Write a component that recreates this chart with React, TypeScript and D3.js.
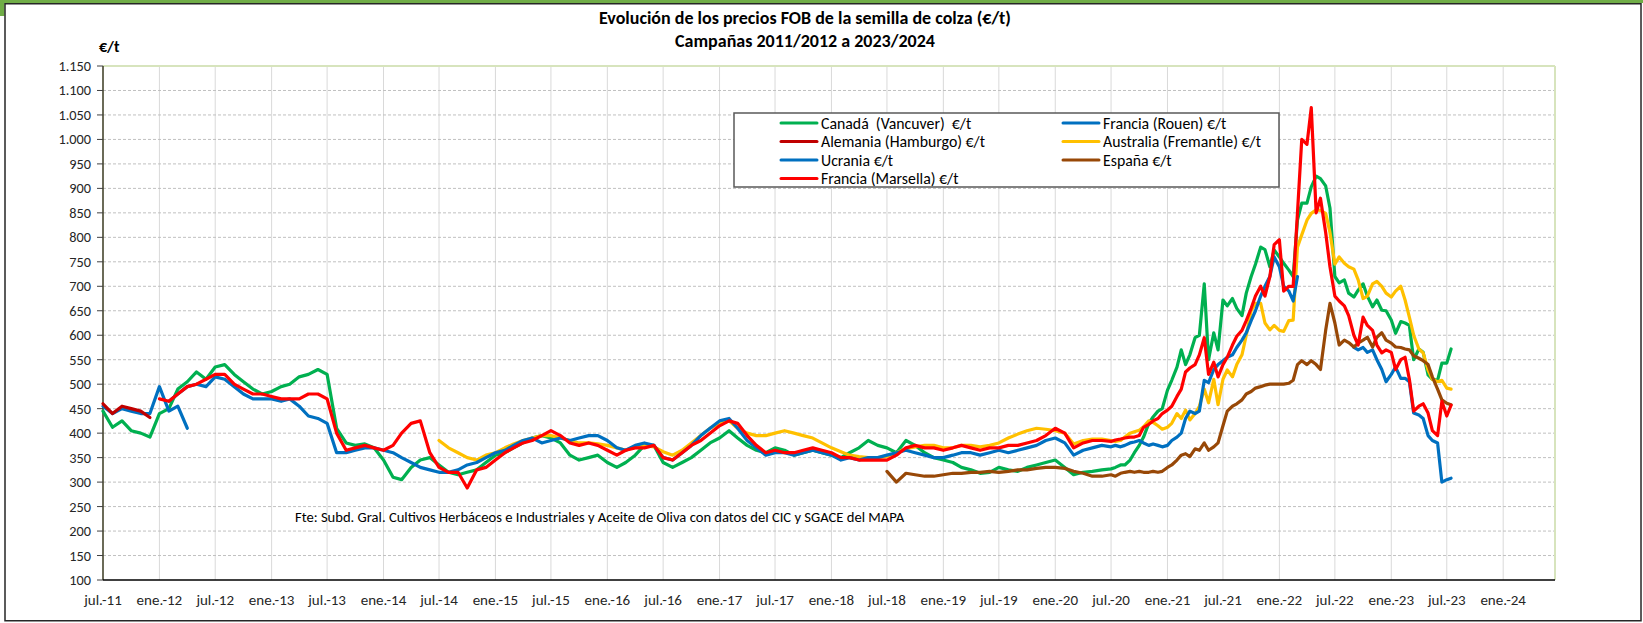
import React from 'react';
import * as d3 from 'd3';

// ---------- categories (dates) ----------
// monthly points Jul-2011 .. Jun-2020, then semi-monthly points Jul-2020 .. Jul-2023
const MONTHLY_DATES: Date[] = d3.timeMonth.range(new Date(2011, 6, 1), new Date(2020, 6, 1));
const SEMI_DATES: Date[] = d3.timeMonth
  .range(new Date(2020, 6, 1), new Date(2023, 7, 1))
  .flatMap((d) => [d, new Date(d.getFullYear(), d.getMonth(), 15)]);
const DATES: Date[] = [...MONTHLY_DATES, ...SEMI_DATES];

const X_TICK_DATES: Date[] = d3.timeMonth.range(new Date(2011, 6, 1), new Date(2024, 1, 1), 6);
const X_TICK_LABELS = [
  'jul.-11', 'ene.-12', 'jul.-12', 'ene.-13', 'jul.-13', 'ene.-14', 'jul.-14', 'ene.-15', 'jul.-15',
  'ene.-16', 'jul.-16', 'ene.-17', 'jul.-17', 'ene.-18', 'jul.-18', 'ene.-19', 'jul.-19', 'ene.-20',
  'jul.-20', 'ene.-21', 'jul.-21', 'ene.-22', 'jul.-22', 'ene.-23', 'jul.-23', 'ene.-24',
];
const Y_TICKS = d3.range(100, 1151, 50);

// ---------- series values (€/t) ----------
const CANADA: (number | null)[] = [
  // 2011 jul-dec (monthly)
  445, 412, 425, 405, 400, 392,
  440, 450, 490, 505, 525, 510, 535, 540, 520, 505, 490, 480,
  485, 495, 500, 515, 520, 530, 520, 410, 380, 375, 378, 370,
  345, 310, 305, 330, 345, 350, 335, 320, 315, 320, 325, 340,
  355, 360, 370, 380, 390, 395, 390, 380, 355, 345, 350, 355,
  340, 330, 340, 355, 375, 375, 340, 330, 340, 350, 365, 380,
  390, 405, 390, 375, 365, 360, 370, 365, 355, 360, 365, 360,
  355, 350, 360, 370, 385, 375, 370, 360, 385, 375, 360, 350,
  345, 340, 330, 325, 318, 320, 330, 325, 322, 330, 335, 340,
  345, 330, 315, 320, 322, 325,
  // semi-monthly from jul-2020
  327, 330, 335, 335, 345, 360, 375, 392, 420, 433, 445, 450,
  488, 508, 535, 570, 540, 560, 595, 600, 705, 550, 605, 570, 672, 660, 675, 655, 640, 686, 720, 745, 780, 775, 740, 774,
  760, 747, 733, 720, 835, 870, 870, 903, 925, 920, 905, 860, 720, 707, 713, 686, 678, 692, 705, 680, 658, 672, 651, 650,
  631, 604, 628, 625, 620, 550, 572, 565, 519, 510, 508, 543, 543, 572,
];

const ROUEN: (number | null)[] = [455, 440, 450, 445, 440, 440, 495, 445, 455, 410];

const ALEMANIA: (number | null)[] = [460, 440, 455, 450, 445, 432];

const AUSTRALIA: (number | null)[] = [
  // from jul-2014 (monthly)
  385, 370, 360, 350, 345, 355,
  360, 370, 378, 385, 390, 395, 395, 390, 385, 380, 380, 378,
  375, 370, 365, 372, 375, 372, 362, 355, 365, 380, 395, 410,
  420, 425, 410, 400, 395, 395, 400, 405, 400, 395, 390, 380,
  370, 362, 355, 352, 350, 350, 352, 360, 368, 372, 375, 375,
  370, 370, 375, 375, 372, 375, 380, 390, 398, 405, 410, 408,
  405, 400, 378, 385, 388, 388,
  // semi-monthly from jul-2020
  385, 383, 385, 392, 400, 403, 406, 413, 425, 422, 415, 408,
  412, 420, 440, 430, 447, 427, 440, 455, 490, 462, 510, 458, 510, 529, 515, 540, 560, 600, 650, 665, 665, 625, 611, 620,
  610, 608, 630, 631, 780, 805, 835, 849, 856, 855, 849, 810, 745, 760, 747, 740, 735, 713, 675, 680, 705, 710, 700, 686,
  678, 690, 700, 672, 637, 600, 572, 564, 529, 510, 505, 508, 492, 490,
];

const UCRANIA: (number | null)[] = [
  // from feb-2012 (monthly)
  465, 480, 495, 500, 495, 515, 510, 495, 480, 470, 470,
  470, 465, 470, 455, 435, 430, 420, 360, 360, 365, 370, 370,
  365, 360, 350, 340, 330, 325, 320, 320, 325, 335, 340, 350,
  360, 365, 375, 385, 390, 380, 385, 390, 385, 390, 395, 395,
  385, 370, 365, 375, 380, 375, 350, 345, 360, 375, 395, 410,
  425, 430, 410, 385, 370, 355, 360, 360, 355, 360, 365, 360,
  355, 345, 350, 345, 350, 350, 355, 360, 365, 360, 355, 350,
  350, 355, 360, 360, 355, 360, 365, 360, 365, 370, 375, 385,
  390, 380, 355, 365, 370, 375,
  // semi-monthly from jul-2020
  372, 375, 372, 375, 380, 382, 385, 380, 375, 378, 375, 372,
  375, 385, 392, 400, 430, 445, 440, 445, 508, 503, 530, 540, 548, 555, 560, 575, 590, 605, 630, 650, 680, 700, 720, 760,
  740, 700, 690, 670, 720, null, null, null, null, null, null, null, null, null, null, null, 575, 570, 575, 565, 570, 550, 530, 505,
  520, 535, 512, 512, 505, 441, 437, 430, 395, 385, 380, 300, 305, 308,
];

const ESPANA: (number | null)[] = [
  // from jul-2018 (monthly)
  322, 300, 318, 315, 312, 312,
  315, 318, 318, 320, 320, 322, 320, 322, 325, 325, 328, 330,
  330, 328, 322, 318, 312, 312,
  // semi-monthly from jul-2020
  315, 312, 318, 320, 322, 320, 322, 320, 320, 322, 320, 322,
  330, 335, 345, 355, 358, 352, 368, 365, 380, 365, 372, 380, 415, 445, 455, 460, 468, 480, 485, 492, 495, 498, 500, 500,
  500, 500, 502, 508, 540, 548, 540, 548, 540, 530, 610, 665, 625, 580, 590, 585, 576, 584, 590, 596, 576, 596, 605, 590,
  584, 576, 575, 572, 570, 558, 553, 548, 540, 515, 490, 468, 461, 458,
];

const MARSELLA: (number | null)[] = [
  // from jan-2012 (monthly)
  470, 465, 480, 495, 500, 510, 520, 520, 500, 490, 480, 480,
  475, 470, 470, 470, 480, 480, 470, 400, 365, 370, 375, 370,
  365, 375, 400, 420, 425, 360, 330, 320, 320, 288, 325, 330,
  345, 360, 370, 380, 385, 395, 405, 395, 380, 375, 380, 375,
  365, 355, 365, 370, 370, 375, 350, 345, 360, 375, 385, 400,
  415, 425, 420, 395, 375, 360, 365, 360, 360, 365, 370, 365,
  360, 350, 350, 345, 345, 345, 345, 355, 370, 375, 370, 370,
  365, 370, 375, 370, 365, 370, 370, 375, 375, 380, 385, 395,
  410, 400, 370, 380, 385, 385,
  // semi-monthly from jul-2020
  383, 386, 388, 390, 392, 392, 395, 412, 418, 425, 430, 440,
  447, 455, 475, 490, 525, 533, 540, 560, 595, 520, 545, 515, 540, 555, 580, 598, 610, 630, 655, 680, 700, 680, 720, 785,
  795, 690, 700, 700, 850, 1000, 990, 1065, 850, 880, 810, 740, 680, 670, 660, 640, 600, 580, 637, 620, 610, 580, 564, 570,
  565, 530, 550, 555, 510, 445, 455, 460, 441, 405, 395, 465, 435, 457,
];

const SERIES_NAMES = [
  'Canadá  (Vancuver)  €/t',
  'Francia (Rouen) €/t',
  'Alemania (Hamburgo) €/t',
  'Australia (Fremantle) €/t',
  'Ucrania €/t',
  'España €/t',
  'Francia (Marsella) €/t',
];
const SERIES_COLORS = ['#00B050', '#0070C0', '#C00000', '#FFC000', '#0070C0', '#984807', '#FF0000'];
const SERIES_VALUES = [CANADA, ROUEN, ALEMANIA, AUSTRALIA, UCRANIA, ESPANA, MARSELLA];
const SERIES_START = [0, 0, 0, 36, 7, 84, 6]; // index into DATES

const TITLE_1 = 'Evolución de los precios FOB de la semilla de colza (€/t)';
const TITLE_2 = 'Campañas 2011/2012 a 2023/2024';
const SOURCE = 'Fte: Subd. Gral. Cultivos Herbáceos e Industriales y Aceite de Oliva con datos del CIC y SGACE del MAPA';

const W = 1643;
const H = 623;
const PLOT = { left: 103, right: 1555, top: 66, bottom: 580 };
const FONT = "Carlito, Lato, 'Open Sans', sans-serif";

const fmt = d3
  .formatLocale({ decimal: ',', thousands: '.', grouping: [3], currency: ['', ''] })
  .format(',');

export default function App() {
  const x = d3
    .scaleTime()
    .domain([new Date(2011, 6, 1), new Date(2024, 5, 18)])
    .range([PLOT.left, PLOT.right]);
  const y = d3.scaleLinear().domain([100, 1150]).range([PLOT.bottom, PLOT.top]);

  const line = d3
    .line<[Date, number | null]>()
    .defined((p) => p[1] != null)
    .x((p) => x(p[0]))
    .y((p) => y(p[1] as number));

  const paths = SERIES_VALUES.map((vals, si) => {
    const pts: [Date, number | null][] = vals.map((v, i) => [DATES[SERIES_START[si] + i], v]);
    return line(pts) || '';
  });

  const legendBox = { x: 734, y: 113, w: 545, h: 74 };
  const legendCols = [781, 1063];
  const legendRows = [123, 141.5, 160, 178.5];

  return (
    <svg
      width={W}
      height={H}
      style={{ position: 'fixed', left: 0, top: 0, background: '#fff' }}
      fontFamily={FONT}
    >
      <rect x={0} y={0} width={W} height={H} fill="#fff" />
      {/* green cell selection artefacts */}
      <rect x={0} y={0} width={W} height={3} fill="#70AD47" />
      <rect x={0} y={0} width={4.5} height={16} fill="#70AD47" />
      {/* chart frame */}
      <rect x={5} y={3.75} width={1636} height={617} fill="none" stroke="#262626" strokeWidth={1.5} />

      {/* title */}
      <text x={805} y={18} dy="0.35em" textAnchor="middle" fontSize={18} fontWeight="bold" fill="#000">
        {TITLE_1}
      </text>
      <text x={805} y={41} dy="0.35em" textAnchor="middle" fontSize={18} fontWeight="bold" fill="#000">
        {TITLE_2}
      </text>
      <text x={99} y={46} dy="0.35em" fontSize={16} fontWeight="bold" fill="#000">
        €/t
      </text>

      {/* vertical gridlines */}
      {X_TICK_DATES.slice(1).map((d, i) => (
        <line key={'vg' + i} x1={x(d)} x2={x(d)} y1={PLOT.top} y2={PLOT.bottom} stroke="#D9D9D9" strokeWidth={1} />
      ))}
      {/* horizontal gridlines */}
      {Y_TICKS.slice(1, -1).map((v) => (
        <line
          key={'hg' + v}
          x1={PLOT.left}
          x2={PLOT.right}
          y1={y(v)}
          y2={y(v)}
          stroke="#C0C0C0"
          strokeWidth={1}
          strokeDasharray="3,2"
        />
      ))}
      {/* plot border top/right */}
      <line x1={PLOT.left} x2={PLOT.right} y1={PLOT.top} y2={PLOT.top} stroke="#D7E4BD" strokeWidth={2} />
      <line x1={PLOT.right} x2={PLOT.right} y1={PLOT.top} y2={PLOT.bottom} stroke="#D7E4BD" strokeWidth={2} />

      {/* y axis */}
      <line x1={PLOT.left} x2={PLOT.left} y1={PLOT.top} y2={PLOT.bottom} stroke="#3A3A20" strokeWidth={1.5} />
      {Y_TICKS.map((v) => (
        <g key={'yt' + v}>
          <line x1={PLOT.left - 6} x2={PLOT.left} y1={y(v)} y2={y(v)} stroke="#404040" strokeWidth={1} />
          <text x={91} y={y(v)} dy="0.35em" textAnchor="end" fontSize={14.3} fill="#262626">
            {fmt(v)}
          </text>
        </g>
      ))}

      {/* x axis */}
      <line x1={PLOT.left} x2={PLOT.right} y1={PLOT.bottom} y2={PLOT.bottom} stroke="#000" strokeWidth={1.5} />
      {X_TICK_DATES.map((d, i) => (
        <text key={'xt' + i} x={x(d)} y={600} dy="0.35em" textAnchor="middle" fontSize={15} fill="#262626">
          {X_TICK_LABELS[i]}
        </text>
      ))}

      {/* source note */}
      <text x={295} y={517} dy="0.35em" fontSize={14.6} fill="#000">
        {SOURCE}
      </text>

      {/* series */}
      {paths.map((p, i) => (
        <path
          key={'s' + i}
          d={p}
          fill="none"
          stroke={SERIES_COLORS[i]}
          strokeWidth={3.2}
          strokeLinejoin="round"
          strokeLinecap="round"
        />
      ))}

      {/* legend */}
      <rect
        x={legendBox.x}
        y={legendBox.y}
        width={legendBox.w}
        height={legendBox.h}
        fill="#fff"
        stroke="#595959"
        strokeWidth={1.5}
      />
      {SERIES_NAMES.map((name, i) => {
        const cx = legendCols[i % 2];
        const cy = legendRows[Math.floor(i / 2)];
        return (
          <g key={'lg' + i}>
            <line x1={cx} x2={cx + 36} y1={cy} y2={cy} stroke={SERIES_COLORS[i]} strokeWidth={3} strokeLinecap="round" />
            <text x={cx + 40} y={cy} dy="0.35em" fontSize={15.8} fill="#000" style={{ whiteSpace: 'pre' }}>
              {name}
            </text>
          </g>
        );
      })}
    </svg>
  );
}
